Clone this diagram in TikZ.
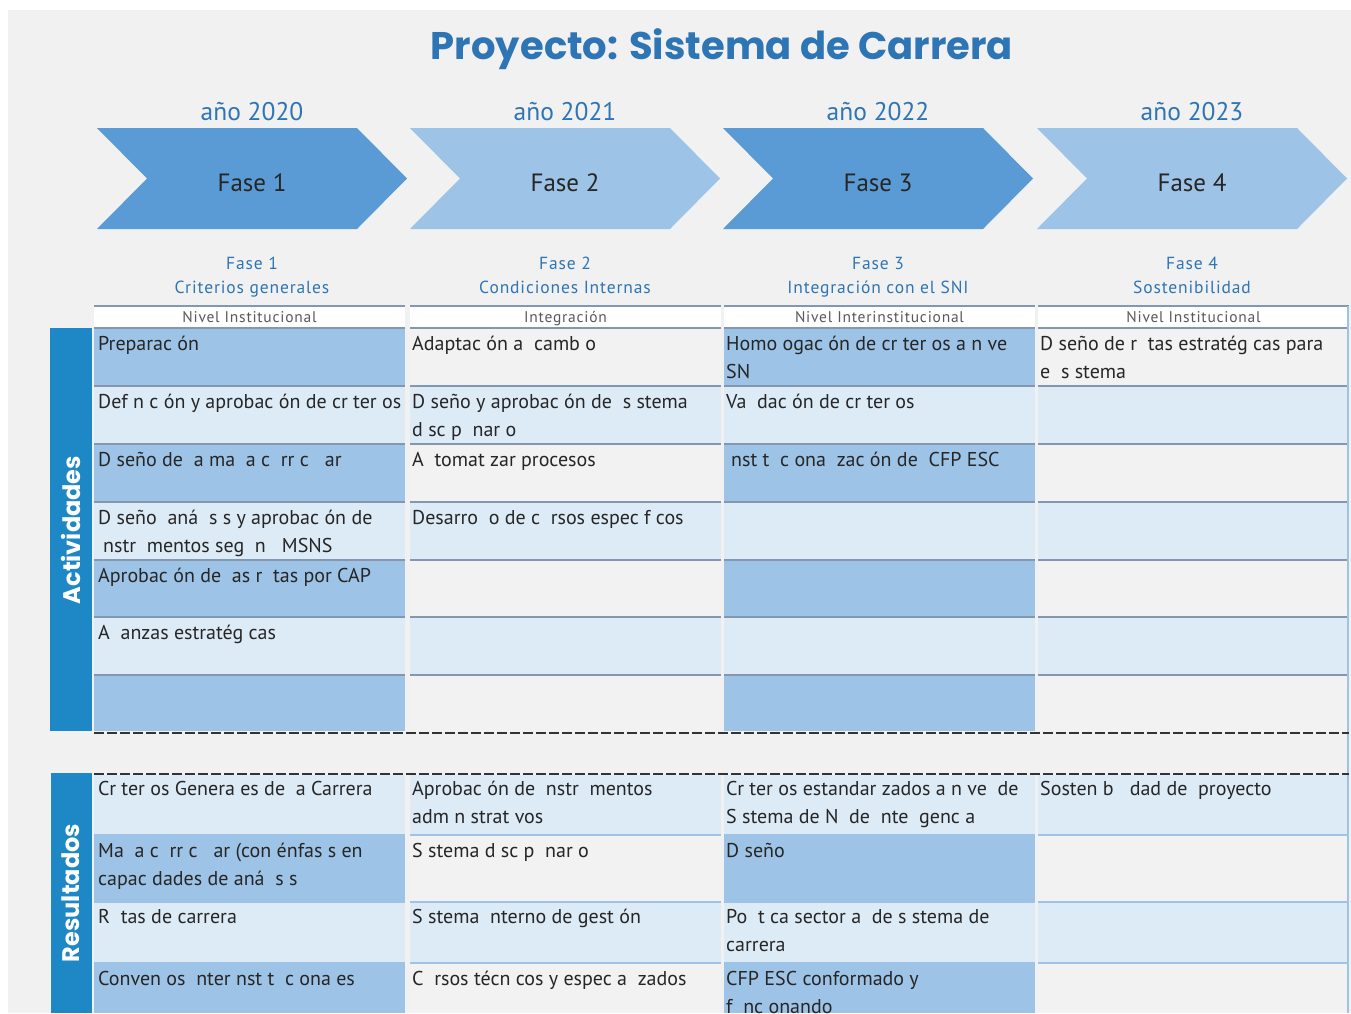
\documentclass[tikz,border=0pt]{standalone}
\usepackage{fontspec}
\setmainfont{PT Sans}
\newfontfamily\titlefont{Poppins}
\newfontfamily\spacedfont[LetterSpace=5]{PT Sans}
\definecolor{bggray}{HTML}{F1F1F1}
\definecolor{cellgray}{HTML}{F2F2F2}
\definecolor{titleblue}{HTML}{2E75B6}
\definecolor{chevdark}{HTML}{5B9BD5}
\definecolor{chevlight}{HTML}{9DC3E6}
\definecolor{cellmed}{HTML}{9DC3E6}
\definecolor{celllight}{HTML}{DDEBF7}
\definecolor{rowline}{HTML}{8497B0}
\definecolor{resline}{HTML}{9DC3E6}
\definecolor{barblue}{HTML}{1E88C7}
\definecolor{celltext}{HTML}{262626}
\definecolor{nivtext}{HTML}{595959}
\definecolor{dashcol}{HTML}{333333}
\newcommand\cstrut{\rule{0pt}{16pt}}
\begin{document}
\begin{tikzpicture}[x=1pt,y=-1pt,
  celltxt/.style={anchor=north west,inner sep=0pt,align=left,text=celltext,
    font=\fontsize{20}{28.5}\selectfont},
  yeartxt/.style={text=titleblue,anchor=base,font=\fontsize{25.5}{28}\selectfont},
  chevtxt/.style={text=celltext,anchor=base,font=\fontsize{25}{28}\selectfont},
  subtxt/.style={text=titleblue,anchor=base,font=\spacedfont\fontsize{17.5}{24}\selectfont},
  nivtxt/.style={text=nivtext,anchor=base,font=\spacedfont\fontsize{15.5}{18}\selectfont},
  bartxt/.style={text=white,rotate=90,font=\titlefont\bfseries\fontsize{24}{28}\selectfont},
  dashline/.style={draw=dashcol,line width=2.2pt,dash pattern=on 10pt off 3pt},
]
\useasboundingbox (0,0) rectangle (1351,1013);
\fill[white] (0,0) rectangle (1351,1013);
\fill[bggray] (8,10) rectangle (1351,1013);

% title
\node[text=titleblue,font=\titlefont\bfseries\fontsize{38.5}{42}\selectfont] (title) at (722,49) {Proyecto: Sistema de Carrera};

% chevrons, years, subheaders
\foreach \i/\cx/\cl/\yr/\sub in {
  1/97/chevdark/2020/Criterios generales,
  2/410/chevlight/2021/Condiciones Internas,
  3/723/chevdark/2022/Integración con el SNI,
  4/1037/chevlight/2023/Sostenibilidad}{
  \fill[\cl] (\cx,128) -- ++(260,0) -- ++(50,50.5) -- ++(-50,50.5) -- ++(-260,0) -- ++(50,-50.5) -- cycle;
  \node[chevtxt] (fase\i) at (\cx+155,191) {Fase \i};
  \node[yeartxt] (year\i) at (\cx+155,120) {año \yr};
  \node[subtxt] (subf\i) at (\cx+155,269) {Fase \i};
  \node[subtxt] (sub\i) at (\cx+155,293) {\sub};
}

% nivel row; column lefts: 94, 410, 724, 1038 ; width 311
\foreach \i/\L/\niv in {1/94/Nivel Institucional,2/410/Integración,3/724/Nivel Interinstitucional,4/1038/Nivel Institucional}{
  \fill[white] (\L,306) rectangle (\L+311,328);
  \draw[rowline,line width=2pt] (\L,306) -- (\L+311,306);
  \node[nivtxt] (niv\i) at (\L+155.5,322) {\niv};
}

% Actividades cells
\foreach \r/\t/\b in {1/328/386,2/386/444,3/444/502,4/502/560,5/560/617,6/617/675,7/675/731}{
  \foreach \i/\L in {1/94,2/410,3/724,4/1038}{
    \pgfmathtruncatemacro{\odd}{mod(\r,2)}
    \pgfmathtruncatemacro{\colodd}{mod(\i,2)}
    \ifnum\odd=1
      \ifnum\colodd=1 \def\fc{cellmed}\else\def\fc{cellgray}\fi
    \else \def\fc{celllight}\fi
    \fill[\fc] (\L,\t) rectangle (\L+311,\b);
    \draw[rowline,line width=2pt] (\L,\t) -- (\L+311,\t);
  }
}

% Resultados cells
\foreach \r/\t/\b in {1/775/835,2/835/902,3/902/963,4/963/1013}{
  \foreach \i/\L in {1/94,2/410,3/724,4/1038}{
    \pgfmathtruncatemacro{\odd}{mod(\r,2)}
    \pgfmathtruncatemacro{\colodd}{mod(\i,2)}
    \ifnum\odd=0
      \ifnum\colodd=1 \def\fc{cellmed}\else\def\fc{cellgray}\fi
    \else \def\fc{celllight}\fi
    \fill[\fc] (\L,\t) rectangle (\L+311,\b);
    \ifnum\r>1 \draw[resline,line width=2.5pt] (\L,\t) -- (\L+311,\t);\fi
  }
}

% right border
\draw[resline,line width=2pt] (1348,306) -- (1348,1013);

% dashed separators
\draw[dashline] (94,733) -- (1349,733);
\draw[dashline] (94,774) -- (1349,774);

% side bars
\fill[barblue] (50,328) rectangle (92,731);
\node[bartxt] (act) at (71,530) {Actividades};
\fill[barblue] (51,773) rectangle (92,1013);
\node[bartxt] (res) at (71,893) {Resultados};

% Actividades texts
\node[celltxt] (a11) at (98,334) {\cstrut Preparac ón};
\node[celltxt] (a21) at (98,392) {\cstrut Def n c ón y aprobac ón de cr ter os};
\node[celltxt] (a31) at (98,450) {\cstrut D seño de~ a ma~ a c~ rr c~~ ar};
\node[celltxt] (a41) at (98,508) {\cstrut D seño~ aná~ s s y aprobac ón de\\\hspace{5pt}nstr~ mentos seg~ n~~ MSNS};
\node[celltxt] (a51) at (98,566) {\cstrut Aprobac ón de~ as r~ tas por CAP};
\node[celltxt] (a61) at (98,623) {\cstrut A~ anzas estratég cas};
\node[celltxt] (a12) at (412,334) {\cstrut Adaptac ón a~ camb o};
\node[celltxt] (a22) at (412,392) {\cstrut D seño y aprobac ón de~ s stema\\d sc p~ nar o};
\node[celltxt] (a32) at (412,450) {\cstrut A~ tomat zar procesos};
\node[celltxt] (a42) at (412,508) {\cstrut Desarro~ o de c~ rsos espec f cos};
\node[celltxt] (a13) at (726,334) {\cstrut Homo ogac ón de cr ter os a n ve\\SN};
\node[celltxt] (a23) at (726,392) {\cstrut Va~ dac ón de cr ter os};
\node[celltxt] (a33) at (726,450) {\cstrut\hspace{5pt}nst t~ c ona~ zac ón de~ CFP ESC};
\node[celltxt] (a14) at (1040,334) {\cstrut D seño de r~ tas estratég cas para\\e~ s stema};

% Resultados texts
\node[celltxt] (r11) at (98,779) {\cstrut Cr ter os Genera es de~ a Carrera};
\node[celltxt] (r21) at (98,841) {\cstrut Ma~ a c~ rr c~~ ar (con énfas s en\\capac dades de aná~ s s};
\node[celltxt] (r31) at (98,907) {\cstrut R~ tas de carrera};
\node[celltxt] (r41) at (98,969) {\cstrut Conven os~ nter nst t~ c ona es};
\node[celltxt] (r12) at (412,779) {\cstrut Aprobac ón de~ nstr~ mentos\\adm n strat vos};
\node[celltxt] (r22) at (412,841) {\cstrut S stema d sc p~ nar o};
\node[celltxt] (r32) at (412,907) {\cstrut S stema~ nterno de gest ón};
\node[celltxt] (r42) at (412,969) {\cstrut C~ rsos técn cos y espec a~ zados};
\node[celltxt] (r13) at (726,779) {\cstrut Cr ter os estandar zados a n ve~ de\\S stema de N~ de~ nte~ genc a};
\node[celltxt] (r23) at (726,841) {\cstrut D seño};
\node[celltxt] (r33) at (726,907) {\cstrut Po~ t ca sector a~ de s stema de\\carrera};
\node[celltxt] (r43) at (726,969) {\cstrut CFP ESC conformado y\\f~ nc onando};
\node[celltxt] (r14) at (1040,779) {\cstrut Sosten b~~ dad de~ proyecto};
\end{tikzpicture}
\end{document}
